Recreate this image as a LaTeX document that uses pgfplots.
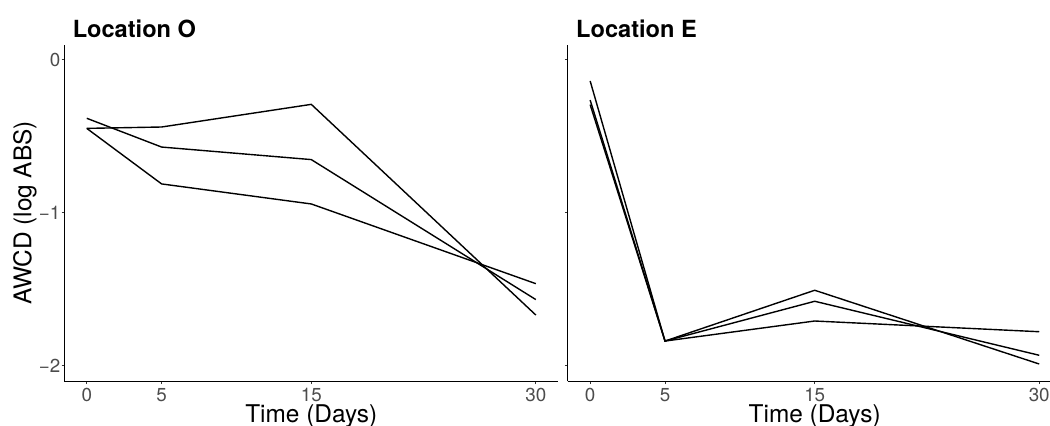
\documentclass[border=0pt]{standalone}
\usepackage{fontspec}
\setmainfont{TeX Gyre Heros}
\usepackage{pgfplots}
\pgfplotsset{compat=1.18}

\pgfplotsset{
  curve/.style={black, solid, line width=0.7pt, mark=none},
  panel/.style={
    scale only axis, width=247pt, height=168.3pt,
    anchor=south west,
    xmin=-1.5, xmax=31.5, ymin=-2.1, ymax=0.1,
    axis lines=left,
    axis line style={-, black, line width=0.5pt},
    tick align=outside, major tick length=1.4pt,
    tick style={color=black!80, line width=0.5pt},
    xtick={0,5,15,30}, ytick={-2,-1,0},
    xticklabels={0,5,15,30},
    ticklabel style={font=\fontsize{9.4}{11}\selectfont, text=black!70},
    xticklabel style={anchor=north, inner sep=0pt, yshift=-1.9pt},
    yticklabel style={anchor=east, inner sep=0pt, xshift=-0.4pt},
    every axis title/.style={at={(axis description cs:0,1)}, anchor=base west,
      xshift=0.7pt, yshift=3.4pt,
      font=\bfseries\fontsize{11.8}{14}\selectfont},
    every axis x label/.style={at={(axis description cs:0.5,0)},
      anchor=base, yshift=-20.85pt, font=\fontsize{12.2}{14}\selectfont},
    xlabel={Time (Days)},
  }
}

\begin{document}
\begin{tikzpicture}

% Location O
\begin{axis}[panel, at={(32.15pt,22.35pt)},
  title={Location O},
  yticklabels={−2,−1,0},
  every axis y label/.style={at={(axis description cs:-0.0796,0.5)},
    rotate=90, anchor=center, font=\fontsize{12.2}{14}\selectfont},
  ylabel={AWCD (log ABS)}]
\addplot[curve] coordinates {(0,-0.447) (5,-0.438) (15,-0.290) (30,-1.667)};
\addplot[curve] coordinates {(0,-0.381) (5,-0.569) (15,-0.651) (30,-1.566)};
\addplot[curve] coordinates {(0,-0.447) (5,-0.810) (15,-0.941) (30,-1.462)};
\end{axis}

% Location E
\begin{axis}[panel, at={(283.85pt,22.35pt)},
  title={Location E},
  yticklabels={}]
\addplot[curve] coordinates {(0,-0.137) (5,-1.837) (15,-1.505) (30,-1.987)};
\addplot[curve] coordinates {(0,-0.262) (5,-1.837) (15,-1.577) (30,-1.930)};
\addplot[curve] coordinates {(0,-0.292) (5,-1.837) (15,-1.706) (30,-1.776)};
\end{axis}

\pgfresetboundingbox
\useasboundingbox (0pt,0pt) rectangle (525pt,213pt);
\end{tikzpicture}
\end{document}
